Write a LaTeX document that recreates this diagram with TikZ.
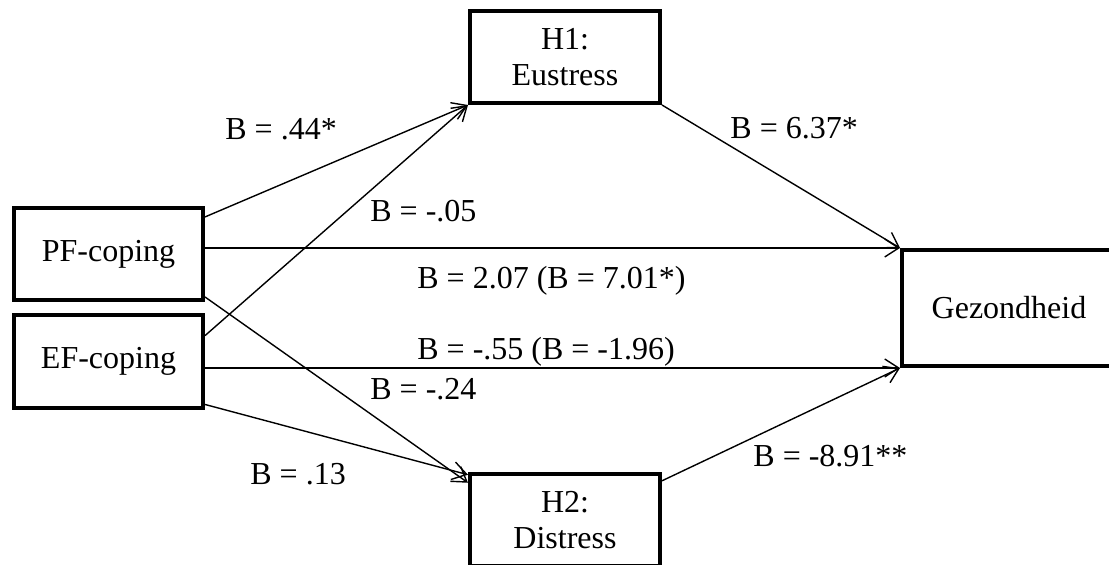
\documentclass[tikz,border=0pt]{standalone}
\usepackage{fontspec}
\setmainfont{Liberation Serif}
\usetikzlibrary{arrows.meta, calc}

\begin{document}
\begin{tikzpicture}[x=0.5pt, y=-0.5pt,
        box/.style={draw, line width=2pt, align=center, inner sep=0pt, font=\fontsize{16}{18}\selectfont},
        link/.style={line width=0.7pt, -{Straight Barb[length=7pt, width=9pt]}},
        coef/.style={anchor=base west, inner sep=0pt, font=\fontsize{16}{18}\selectfont}]
        \path[use as bounding box, clip] (0,0) rectangle (1109,565);

        % Predictors
        \node[box, minimum width=94.5pt, minimum height=46pt] (pf) at (108.5,254) {PF-coping};
        \node[box, minimum width=94.5pt, minimum height=46.5pt] (ef) at (108.5,361.5) {EF-coping};

        % Mediators
        \node[box, minimum width=95pt, minimum height=46pt] (hone) at (565,57) {H1:\\Eustress};
        \node[box, minimum width=95pt, minimum height=46pt] (htwo) at (565,520) {H2:\\Distress};

        % Outcome
        \node[box, minimum width=107pt, minimum height=58pt] (gez) at (1009,308) {Gezondheid};

        % Paths
        \draw[link] (pf.21) -- (hone.south west);
        \draw[link] (ef.15) -- (hone.south west);
        \draw[link] (pf.east |- gez.north west) -- (gez.north west);
        \draw[link] (ef.east |- gez.south west) -- (gez.south west);
        \draw[link] (pf.-24) -- (htwo.159);
        \draw[link] (ef.-24) -- (htwo.155);
        \draw[link] (hone.south east) -- (gez.north west);
        \draw[link] (htwo.22) -- (gez.south west);

        % Coefficients
        \node[coef] (bpfhone) at (225,140) {B = .44*};
        \node[coef] (befhone) at (370,222) {B = -.05};
        \node[coef] (bhonegez) at (730,139) {B = 6.37*};
        \node[coef] (bpfgez) at (417,289) {B = 2.07 (B = 7.01*)};
        \node[coef] (befgez) at (417,360) {B = -.55 (B = -1.96)};
        \node[coef] (bpfhtwo) at (370,400) {B = -.24};
        \node[coef] (befhtwo) at (250,485) {B = .13};
        \node[coef] (bhtwogez) at (753,467) {B = -8.91**};
\end{tikzpicture}
\end{document}
